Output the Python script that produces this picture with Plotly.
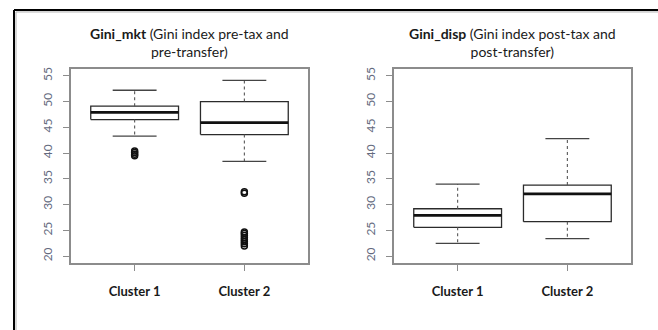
import plotly.graph_objects as go

# ---------------- data ----------------
clusters = ["Cluster 1", "Cluster 2"]
y_ticks = [20, 25, 30, 35, 40, 45, 50, 55]

mkt_lower = [43.3, 38.4]
mkt_q1 = [46.5, 43.6]
mkt_median = [47.9, 45.9]
mkt_q3 = [49.1, 50.0]
mkt_upper = [52.2, 54.1]
mkt_out_c1 = [39.5, 39.8, 40.1, 40.4]
mkt_out_c2 = [32.2, 32.5, 22.0, 22.4, 22.8, 23.2, 23.6, 24.0, 24.4, 24.7]

disp_lower = [22.5, 23.4]
disp_q1 = [25.6, 26.7]
disp_median = [27.9, 32.1]
disp_q3 = [29.2, 33.8]
disp_upper = [34.0, 42.8]

# ---------------- figure ----------------
fig = go.Figure()
BOXC = "#2b2b2b"
HALF = 0.4
STAPLE = 0.2


def add_boxes(lower, q1, med, q3, upper, xa, ya):
    for i in range(len(clusters)):
        x = i + 1
        # box
        fig.add_trace(go.Scatter(
            x=[x - HALF, x + HALF, x + HALF, x - HALF, x - HALF],
            y=[q1[i], q1[i], q3[i], q3[i], q1[i]],
            mode="lines", line=dict(color=BOXC, width=1.3),
            xaxis=xa, yaxis=ya, hoverinfo="skip", showlegend=False))
        # median
        fig.add_trace(go.Scatter(
            x=[x - HALF, x + HALF], y=[med[i], med[i]],
            mode="lines", line=dict(color="#111111", width=2.7),
            xaxis=xa, yaxis=ya, hoverinfo="skip", showlegend=False))
        # whiskers (dashed)
        fig.add_trace(go.Scatter(
            x=[x, x, None, x, x], y=[q3[i], upper[i], None, q1[i], lower[i]],
            mode="lines", line=dict(color="#555555", width=1.1, dash="3px,3px"),
            xaxis=xa, yaxis=ya, hoverinfo="skip", showlegend=False))
        # staples
        fig.add_trace(go.Scatter(
            x=[x - STAPLE, x + STAPLE, None, x - STAPLE, x + STAPLE],
            y=[upper[i], upper[i], None, lower[i], lower[i]],
            mode="lines", line=dict(color="#444444", width=1.3),
            xaxis=xa, yaxis=ya, hoverinfo="skip", showlegend=False))


add_boxes(mkt_lower, mkt_q1, mkt_median, mkt_q3, mkt_upper, "x", "y")
add_boxes(disp_lower, disp_q1, disp_median, disp_q3, disp_upper, "x2", "y2")

# outliers
fig.add_trace(go.Scatter(
    x=[1] * len(mkt_out_c1), y=mkt_out_c1, mode="markers",
    marker=dict(symbol="circle-open", size=6, color="#111111", line=dict(width=1.5)),
    xaxis="x", yaxis="y", hoverinfo="skip", showlegend=False))
fig.add_trace(go.Scatter(
    x=[2] * len(mkt_out_c2), y=mkt_out_c2, mode="markers",
    marker=dict(symbol="circle-open", size=6, color="#111111", line=dict(width=1.5)),
    xaxis="x", yaxis="y", hoverinfo="skip", showlegend=False))

W, H = 658, 330
ydom = [1 - 263 / H, 1 - 67 / H]
AXC = "#8c8c8c"
TICKC = "#646a7e"

xcommon = dict(range=[0.42, 2.58], tickvals=[1, 2],
               ticktext=[f"<b>{c}</b>" for c in clusters],
               showline=True, mirror=True, linecolor=AXC, linewidth=1.5,
               ticks="outside", ticklen=6, tickcolor=AXC, tickwidth=1,
               showgrid=False, zeroline=False, ticklabelstandoff=9,
               tickfont=dict(family="Lato, Open Sans, sans-serif", size=13, color="#1a1a1a"))
ycommon = dict(range=[18.6, 56.4], tickvals=y_ticks,
               ticktext=[str(v) for v in y_ticks],
               showline=True, mirror=True, linecolor=AXC, linewidth=1.5,
               ticks="outside", ticklen=6, tickcolor=AXC, tickwidth=1,
               showgrid=False, zeroline=False, tickangle=-90, ticklabelstandoff=6,
               tickfont=dict(family="Lato, Open Sans, sans-serif", size=12, color=TICKC),
               domain=ydom)

fig.update_layout(
    width=W, height=H, margin=dict(l=0, r=0, t=0, b=0),
    paper_bgcolor="white", plot_bgcolor="white",
    xaxis=dict(domain=[71 / W, 308 / W], anchor="y", **xcommon),
    yaxis=dict(anchor="x", **ycommon),
    xaxis2=dict(domain=[394 / W, 631 / W], anchor="y2", **xcommon),
    yaxis2=dict(anchor="x2", **ycommon),
)

title_font = dict(family="Lato, Open Sans, sans-serif", size=14, color="#1a1a1a")
fig.add_annotation(x=(71 + 308) / 2 / W, y=1 - 41 / H, xref="paper", yref="paper",
                   xanchor="center", yanchor="middle",
                   text="<b>Gini_mkt</b> (Gini index pre-tax and<br>pre-transfer)",
                   showarrow=False, font=title_font, align="center")
fig.add_annotation(x=(394 + 631) / 2 / W, y=1 - 41 / H, xref="paper", yref="paper",
                   xanchor="center", yanchor="middle",
                   text="<b>Gini_disp</b> (Gini index post-tax and<br>post-transfer)",
                   showarrow=False, font=title_font, align="center")

# outer frame (left and top edges)
fig.add_shape(type="line", xref="paper", yref="paper",
              x0=14 / W, x1=14 / W, y0=0, y1=1 - 8 / H, line=dict(color="black", width=2))
fig.add_shape(type="line", xref="paper", yref="paper",
              x0=14 / W, x1=1, y0=1 - 8 / H, y1=1 - 8 / H, line=dict(color="black", width=2))
fig.add_shape(type="line", xref="paper", yref="paper",
              x0=16 / W, x1=16 / W, y0=0, y1=1 - 10 / H, line=dict(color="#b0b0b0", width=1))
fig.add_shape(type="line", xref="paper", yref="paper",
              x0=16 / W, x1=1, y0=1 - 10 / H, y1=1 - 10 / H, line=dict(color="#b0b0b0", width=1))

fig.write_html("out.html")
